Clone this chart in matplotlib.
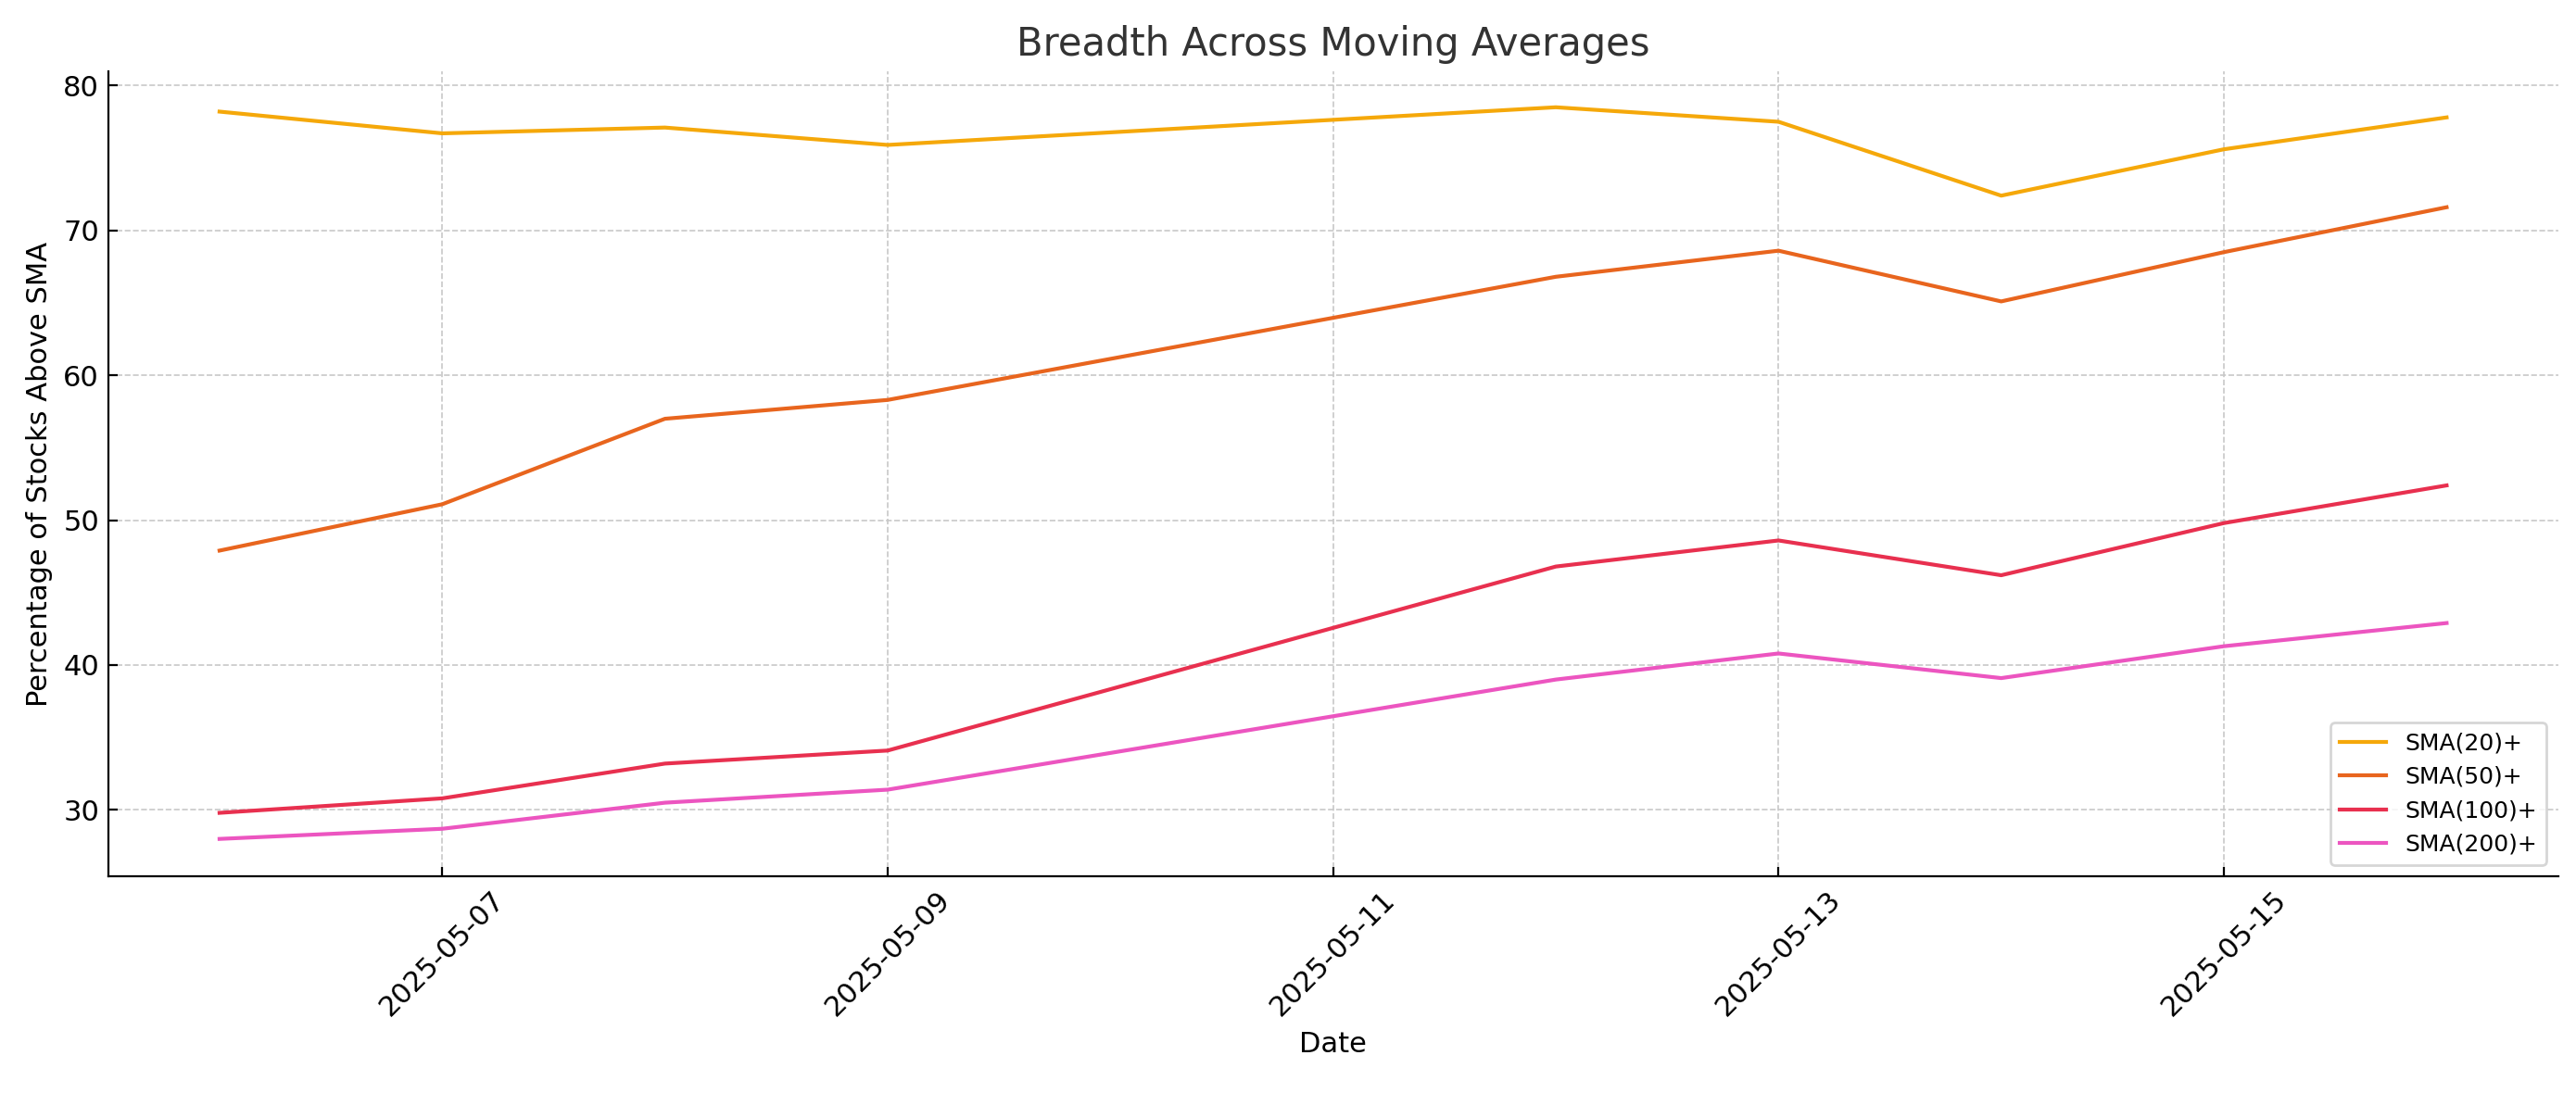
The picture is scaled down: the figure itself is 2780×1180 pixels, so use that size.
import matplotlib
matplotlib.use("Agg")
import matplotlib.pyplot as plt
import matplotlib.dates as mdates
import pandas as pd

dates = ["2025-05-06","2025-05-07","2025-05-08","2025-05-09","2025-05-12",
         "2025-05-13","2025-05-14","2025-05-15","2025-05-16"]
sma20 = [78.2, 76.7, 77.1, 75.9, 78.5, 77.5, 72.4, 75.6, 77.8]
sma50 = [47.9, 51.1, 57.0, 58.3, 66.8, 68.6, 65.1, 68.5, 71.6]
sma100 = [29.8, 30.8, 33.2, 34.1, 46.8, 48.6, 46.2, 49.8, 52.4]
sma200 = [28.0, 28.7, 30.5, 31.4, 39.0, 40.8, 39.1, 41.3, 42.9]
labels = ["SMA(20)+", "SMA(50)+", "SMA(100)+", "SMA(200)+"]
colors = ["#F5A80A", "#E8651E", "#E8304F", "#EC55C0"]

x = pd.to_datetime(dates)
fig, ax = plt.subplots(figsize=(13.9, 5.9), dpi=200)
for s, l, c in zip([sma20, sma50, sma100, sma200], labels, colors):
    ax.plot(x, s, color=c, label=l, lw=1.5)
ax.set_title("Breadth Across Moving Averages", fontsize=15, color="#333333")
ax.set_xlabel("Date", fontsize=11)
ax.set_ylabel("Percentage of Stocks Above SMA", fontsize=11)
ax.xaxis.set_major_locator(mdates.DayLocator(bymonthday=[7, 9, 11, 13, 15]))
ax.xaxis.set_major_formatter(mdates.DateFormatter("%Y-%m-%d"))
plt.setp(ax.get_xticklabels(), rotation=45, ha="center")
ax.tick_params(direction="in", labelsize=11)
ax.grid(True, ls="--", lw=0.6, color="#c8c8c8")
ax.spines["top"].set_visible(False)
ax.spines["right"].set_visible(False)
ax.set_ylim(25.4, 81)
ax.legend(loc="lower right", fontsize=9)
fig.subplots_adjust(left=0.042, right=0.993, top=0.935, bottom=0.198)
fig.savefig("out.png")
